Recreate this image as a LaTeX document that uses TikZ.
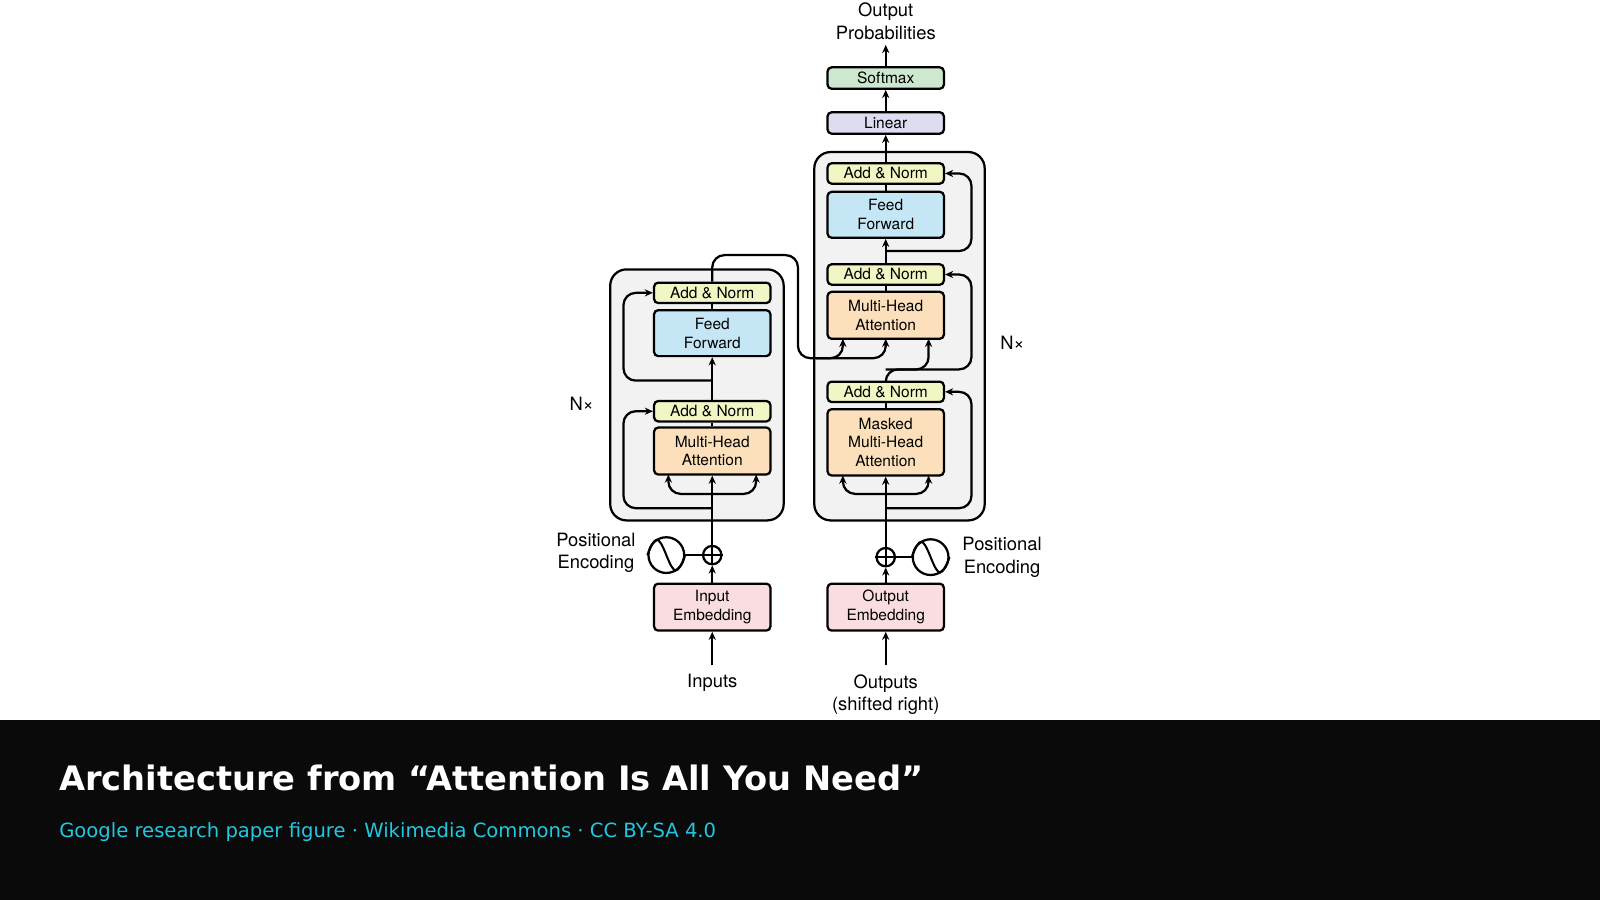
\documentclass[tikz,border=0pt]{standalone}
\usepackage{fontspec}
\setmainfont{TeX Gyre Heros}
\newfontfamily\dejavu{DejaVu Sans}
\usetikzlibrary{arrows.meta}
\definecolor{anorm}{HTML}{F2F5C4}
\definecolor{ffc}{HTML}{C4E6F5}
\definecolor{mha}{HTML}{FCE0BC}
\definecolor{emb}{HTML}{F9DDE0}
\definecolor{smx}{HTML}{CDE8CF}
\definecolor{lin}{HTML}{DDDDF2}
\definecolor{grayb}{HTML}{F2F2F2}
\definecolor{sub}{HTML}{22C7E0}
\begin{document}
\begin{tikzpicture}[x=0.5pt,y=-0.5pt,
  blk/.style={draw,line width=1.1pt,rounded corners=2pt,inner sep=0pt,align=center,font=\fontsize{7.6}{9.2}\selectfont},
  lbl/.style={align=center,font=\fontsize{9}{11}\selectfont},
  ln/.style={line width=1.1pt,rounded corners=6pt},
  ar/.style={ln,-{Stealth[length=4pt,width=3.5pt]}}]
\useasboundingbox (0,0) rectangle (1568,882);
\fill[black!96] (0,706) rectangle (1568,882);
\node[anchor=west,text=white,font=\dejavu\bfseries\fontsize{16.5}{20}\selectfont] (title) at (51,762) {Architecture from “Attention Is All You Need”};
\node[anchor=west,text=sub,font=\dejavu\fontsize{9.6}{12}\selectfont] (subt) at (51,815) {Google research paper figure · Wikimedia Commons · CC BY-SA 4.0};
% gray boxes
\draw[line width=1.1pt,fill=grayb,rounded corners=8pt] (598,264) rectangle (768,510);
\draw[line width=1.1pt,fill=grayb,rounded corners=8pt] (798,149) rectangle (965,510);
% encoder blocks
\node[blk,fill=anorm,minimum width=57pt,minimum height=10pt] (ean2) at (698,287) {Add \& Norm};
\node[blk,fill=ffc,minimum width=57pt,minimum height=22.5pt] (eff) at (698,326.5) {Feed\\Forward};
\node[blk,fill=anorm,minimum width=57pt,minimum height=10pt] (ean1) at (698,403) {Add \& Norm};
\node[blk,fill=mha,minimum width=57pt,minimum height=23pt] (emha) at (698,442) {Multi-Head\\Attention};
\node[blk,fill=emb,minimum width=57pt,minimum height=23pt] (eemb) at (698,595) {Input\\Embedding};
% decoder blocks
\node[blk,fill=smx,minimum width=57pt,minimum height=10.5pt] (soft) at (868,76.5) {Softmax};
\node[blk,fill=lin,minimum width=57pt,minimum height=10.5pt] (lin) at (868,120.5) {Linear};
\node[blk,fill=anorm,minimum width=57pt,minimum height=10pt] (dan3) at (868,170) {Add \& Norm};
\node[blk,fill=ffc,minimum width=57pt,minimum height=22.5pt] (dff) at (868,210.5) {Feed\\Forward};
\node[blk,fill=anorm,minimum width=57pt,minimum height=10pt] (dan2) at (868,269) {Add \& Norm};
\node[blk,fill=mha,minimum width=57pt,minimum height=23pt] (dmha) at (868,309) {Multi-Head\\Attention};
\node[blk,fill=anorm,minimum width=57pt,minimum height=10pt] (dan1) at (868,384) {Add \& Norm};
\node[blk,fill=mha,minimum width=57pt,minimum height=32.5pt] (dmm) at (868,433.5) {Masked\\Multi-Head\\Attention};
\node[blk,fill=emb,minimum width=57pt,minimum height=23pt] (demb) at (868,595) {Output\\Embedding};
% positional
\node[draw,circle,line width=1.1pt,minimum size=9pt,inner sep=0pt] (ep) at (698,544) {};
\draw[line width=0.9pt] (ep.north)--(ep.south) (ep.west)--(ep.east);
\node[draw,circle,line width=1.1pt,minimum size=9pt,inner sep=0pt] (dp) at (868,546) {};
\draw[line width=0.9pt] (dp.north)--(dp.south) (dp.west)--(dp.east);
\node[draw,circle,line width=1.1pt,minimum size=17.5pt,inner sep=0pt] (es) at (653,544) {};
\draw[line width=1pt] (es.west) .. controls +(8,-20) and +(-8,-20) .. (es.center) .. controls +(8,20) and +(-8,20) .. (es.east);
\node[draw,circle,line width=1.1pt,minimum size=17.5pt,inner sep=0pt] (ds) at (912,546) {};
\draw[line width=1pt] (ds.west) .. controls +(8,-20) and +(-8,-20) .. (ds.center) .. controls +(8,20) and +(-8,20) .. (ds.east);
\draw[line width=1.1pt] (es)--(ep) (dp)--(ds);
% labels
\node[lbl] (pel) at (584,542) {Positional\\Encoding};
\node[lbl] (pdl) at (982,546) {Positional\\Encoding};
\node[lbl] (nxl) at (570,396) {N×};
\node[lbl] (nxr) at (992,336) {N×};
\node[lbl] (inp) at (698,669) {Inputs};
\node[lbl] (outp) at (868,681) {Outputs\\(shifted right)};
\node[lbl] (prob) at (868,21) {Output\\Probabilities};
\coordinate (ein) at (698,652);
\coordinate (din) at (868,652);
% encoder connections
\draw[ar] (ein)--(eemb.south);
\draw[ar] (eemb.north)--(ep.south);
\draw[ar] (ep.north)--(emha.south);
\draw[ar] (698,484) -| (655,465);
\draw[ar] (698,484) -| (741,465);
\draw[ar] (698,498) -| (611,403) -- (ean1.west);
\draw[ar] (ean1.north)--(eff.south);
\draw[ar] (698,373) -| (611,287) -- (ean2.west);
\draw[ln] (eff.north)--(ean2.south);
\draw[ar] (ean2.north) |- (782,250) |- (826,351) -- (826,332);
\draw[ar] (800,351) -| (868,332);
% decoder connections
\draw[ar] (din)--(demb.south);
\draw[ar] (demb.north)--(dp.south);
\draw[ar] (dp.north)--(dmm.south);
\draw[ar] (868,484) -| (826,466);
\draw[ar] (868,484) -| (910,466);
\draw[ar] (868,498) -| (952,384) -- (dan1.east);
\draw[ar] (dan1.north) |- (910,362) -- (910,332);
\draw[ar] (868,362) -| (952,269) -- (dan2.east);
\draw[ar] (dan2.north)--(dff.south);
\draw[ar] (868,246) -| (952,170) -- (dan3.east);
\draw[ln] (dff.north)--(dan3.south);
\draw[ln] (dmha.north)--(dan2.south);
\draw[ln] (emha.north)--(ean1.south);
\draw[ln] (dmm.north)--(dan1.south);
\draw[ar] (dan3.north)--(lin.south);
\draw[ar] (lin.north)--(soft.south);
\draw[ar] (soft.north)--(868,44);
\end{tikzpicture}
\end{document}
